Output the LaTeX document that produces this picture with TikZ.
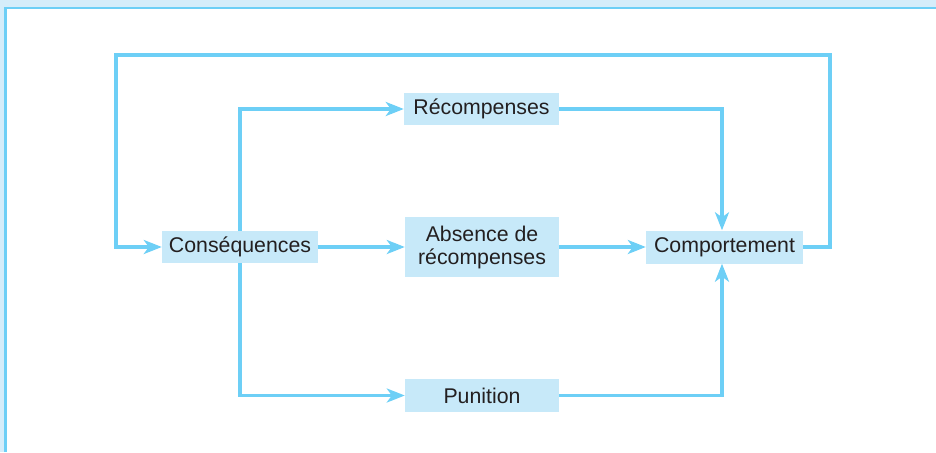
\documentclass[tikz,border=0pt]{standalone}
\usepackage{fontspec}
\setmainfont{Liberation Sans}
\usetikzlibrary{arrows.meta}
\definecolor{flow}{HTML}{6DCFF6}
\definecolor{boxfill}{HTML}{C7E9F9}
\definecolor{band}{HTML}{D5EDFA}
\definecolor{ink}{HTML}{231F20}
\begin{document}
\begin{tikzpicture}[x=1pt,y=-1pt,
  stepbox/.style={fill=boxfill, inner sep=0pt, text=ink, align=center,
    font=\fontsize{21.3}{23}\selectfont},
  link/.style={draw=flow, line width=3.2pt},
  arr/.style={link, -{Stealth[length=18pt,width=14pt,inset=5pt]}}]
\useasboundingbox (0,0) rectangle (936,452);
% frame
\fill[band] (0,0) rectangle (936,7);
\fill[band] (0,0) rectangle (4,452);
\fill[flow] (4,7) rectangle (936,9.5);
\fill[flow] (4,7) rectangle (7,452);
% boxes
\node[stepbox, minimum width=156pt, minimum height=32pt] (cons) at (240,247) {Conséquences};
\node[stepbox, minimum width=155pt, minimum height=32pt] (rec) at (481.5,109) {Récompenses};
\node[stepbox, minimum width=154pt, minimum height=60pt] (abs) at (482,247) {Absence de\\récompenses};
\node[stepbox, minimum width=157pt, minimum height=33pt] (comp) at (724.5,247) {Comportement};
\node[stepbox, minimum width=154pt, minimum height=33pt] (pun) at (482,395.5) {Punition};
% feedback loop
\coordinate (tr) at (830,55);
\coordinate (tl) at (116,55);
\coordinate (compN) at ([xshift=-2.5pt]comp.north);
\coordinate (compS) at ([xshift=-2.5pt]comp.south);
\draw[arr] (comp.east) -| (tr) -- (tl) |- (cons.west);
% branches
\draw[arr] (cons.north) |- (rec.west);
\draw[arr] (cons.south) |- (pun.west);
\draw[arr] (cons.east) -- (abs.west);
\draw[arr] (rec.east) -| (compN);
\draw[arr] (abs.east) -- (comp.west);
\draw[arr] (pun.east) -| (compS);
\end{tikzpicture}
\end{document}
